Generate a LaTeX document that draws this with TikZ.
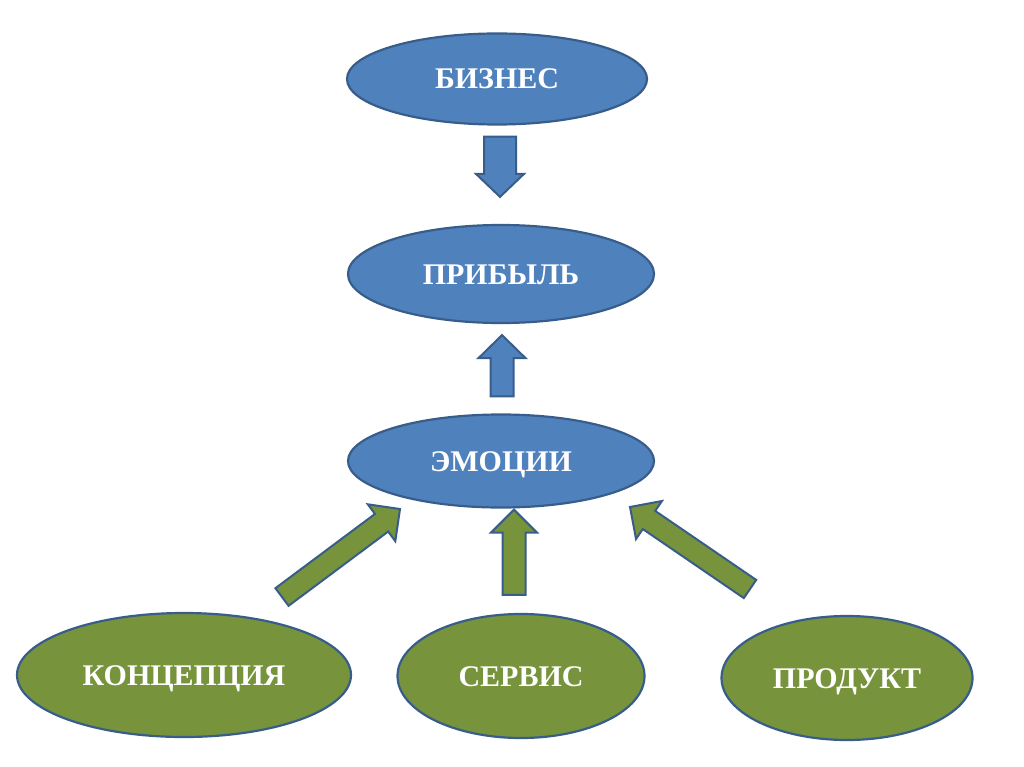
\documentclass[tikz,border=0pt]{standalone}
\usepackage{fontspec}
\setmainfont{Liberation Serif}
\usepackage{xcolor}
\usetikzlibrary{shapes.geometric, calc}

\definecolor{blueFill}{HTML}{4F81BD}
\definecolor{blueLine}{HTML}{385D8A}
\definecolor{greenFill}{HTML}{77933C}

% block arrow: style, tail, tip, shaft half width, head half width
\newcommand{\blockarrow}[5]{%
  \coordinate (hb) at ($(#3)!23pt!(#2)$);
  \draw[#1] ($(#2)!#4!90:(#3)$) -- ($(hb)!#4!90:(#3)$) -- ($(hb)!#5!90:(#3)$) -- (#3)
    -- ($(hb)!#5!-90:(#3)$) -- ($(hb)!#4!-90:(#3)$) -- ($(#2)!#4!-90:(#3)$) -- cycle;}

\tikzset{
  oval/.style={ellipse, draw=blueLine, line width=2.2pt, text=white, inner sep=0pt,
    text height=20pt, text depth=0pt, font=\bfseries\fontsize{30}{30}\selectfont},
  blueoval/.style={oval, fill=blueFill},
  greenoval/.style={oval, fill=greenFill},
  bluearrow/.style={fill=blueFill, draw=blueLine, line width=2pt, line join=miter},
  greenarrow/.style={fill=greenFill, draw=blueLine, line width=2pt, line join=miter}
}

\begin{document}
\begin{tikzpicture}[x=1pt, y=-1pt]
        \useasboundingbox (0,0) rectangle (1024,767);
        % Top chain (blue)
        \node[blueoval, minimum width=300pt, minimum height=91pt] (biz) at (497,79) {БИЗНЕС};
        \node[blueoval, minimum width=306pt, minimum height=98pt] (prib) at (501,274) {ПРИБЫЛЬ};
        \node[blueoval, minimum width=306pt, minimum height=93pt] (emo) at (501,461) {ЭМОЦИИ};
        % Bottom sources (green)
        \node[greenoval, minimum width=334pt, minimum height=124pt] (konc) at (184,675) {КОНЦЕПЦИЯ};
        \node[greenoval, minimum width=247pt, minimum height=124pt] (serv) at (521,676) {СЕРВИС};
        \node[greenoval, minimum width=251pt, minimum height=124pt] (prod) at (847,678) {ПРОДУКТ};
        % Arrow ends
        \coordinate (bizT) at ($(biz.south)+(3,11)$);
        \coordinate (pribH) at ($(prib.north)+(-1,-27)$);
        \coordinate (emoT) at ($(emo.north)+(1,-17)$);
        \coordinate (pribT) at ($(prib.south)+(1,11)$);
        \coordinate (koncT) at (282,597);
        \coordinate (emoL) at (400,509);
        \coordinate (servT) at ($(serv.north)+(-7,-18)$);
        \coordinate (emoM) at ($(emo.south)+(13,1)$);
        \coordinate (prodT) at (750,589);
        \coordinate (emoR) at (630,507);
        % Blue arrows
        \blockarrow{bluearrow}{bizT}{pribH}{16pt}{24pt}
        \blockarrow{bluearrow}{emoT}{pribT}{11.5pt}{23.5pt}
        % Green arrows
        \blockarrow{greenarrow}{koncT}{emoL}{11pt}{23pt}
        \blockarrow{greenarrow}{servT}{emoM}{11.5pt}{23pt}
        \blockarrow{greenarrow}{prodT}{emoR}{11pt}{23pt}
    \end{tikzpicture}
\end{document}
